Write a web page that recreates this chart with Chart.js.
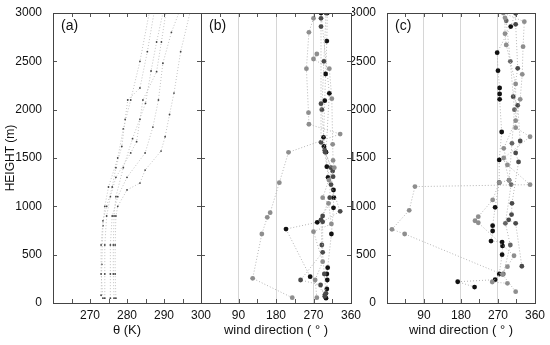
<!DOCTYPE html>
<html>
<head>
<meta charset="utf-8">
<script src="https://cdn.jsdelivr.net/npm/chart.js@4"></script>
<style>
  body { margin: 0; background: #fff; }
  #wrap { position: relative; width: 550px; height: 345px; }
  canvas { position: absolute; left: 0; top: 0; }
</style>
</head>
<body>
<div id="wrap">
  <canvas id="chartA" width="550" height="345"></canvas>
  <canvas id="chartB" width="550" height="345"></canvas>
  <canvas id="chartC" width="550" height="345"></canvas>
</div>
<script>
// TICKS
const heightTicks = [0, 500, 1000, 1500, 2000, 2500, 3000];
const thetaTickLabels = [270, 280, 290, 300];
const dirTickLabels = [90, 180, 270, 360];

// PANEL (a) - potential temperature profiles (K) vs height (m)
const a1Theta = [273.5, 273, 273, 273.5, 274.5, 276, 277, 278.6, 279.5, 280.2, 283.5, 285.5, 287.3];
const a1Hgt   = [50, 300, 600, 850, 1000, 1200, 1400, 1620, 1900, 2100, 2224, 2600, 3000];
const a2Theta = [274, 274, 274, 274.5, 275.5, 277, 281, 282.6, 283.5, 284.3, 288, 289.3, 290.5];
const a2Hgt   = [50, 300, 600, 900, 1100, 1300, 1552, 1669, 1900, 2100, 2393, 2700, 3000];
const a3Theta = [275.5, 275.5, 275.5, 276, 277.5, 280, 284.9, 287, 288.5, 289.7, 292, 294];
const a3Hgt   = [50, 300, 600, 900, 1100, 1300, 1552, 1820, 2100, 2480, 2800, 3000];
const a4Theta = [277, 276.8, 276.8, 277, 277.5, 280, 283.5, 284.9, 289.2, 290.3, 291.5, 292.7, 294.5, 297];
const a4Hgt   = [50, 300, 600, 900, 1000, 1170, 1241, 1375, 1572, 1720, 1950, 2172, 2600, 3000];
const a5Theta = [276.5, 276.3, 276.3, 276.5, 277, 279, 281.5, 285, 286.5, 288, 289.7];
const a5Hgt   = [50, 300, 600, 900, 1100, 1400, 1700, 2066, 2400, 2700, 3000];
const a6Theta = [273, 273.2, 273.5, 274, 275, 277.5, 279, 281, 283.5, 286];
const a6Hgt   = [80, 400, 800, 1000, 1200, 1500, 1800, 2100, 2500, 3000];

// PANEL (b) - wind direction (deg) vs height (m)
const bGray1Dir = [219, 124, 146, 159, 166, 188, 210, 334, 259, 258, 253, 259, 270];
const bGray1Hgt = [55, 255, 714, 886, 934, 1245, 1559, 1748, 1849, 1969, 2424, 2800, 2945];
const bGray2Dir = [278, 274, 292, 270, 313, 306, 292, 307, 320, 317, 316, 314, 308, 270, 278];
const bGray2Hgt = [55, 238, 428, 738, 818, 1030, 1090, 1272, 1400, 1475, 1641, 2114, 2424, 2524, 2576];
const bBlack1Dir = [300, 302, 303, 302, 304, 313, 318, 318, 302, 295, 294, 297, 299, 302, 303];
const bBlack1Hgt = [50, 145, 238, 300, 365, 714, 985, 1169, 1410, 1620, 1714, 2093, 2369, 2710, 3000];
const bBlack2Dir = [298, 262, 204, 279, 319, 305, 300, 308, 288];
const bBlack2Hgt = [90, 272, 765, 835, 1090, 1300, 1560, 2169, 3000];
const bDark1Dir = [297, 287, 239, 292, 292, 334, 312, 317, 316, 298, 288, 288, 288, 288];
const bDark1Hgt = [70, 186, 238, 524, 840, 948, 1225, 1307, 1365, 1560, 1662, 2062, 2860, 2945];
const bDark2Dir = [300, 296, 290, 288, 292, 309, 312, 297, 290, 295, 300];
const bDark2Hgt = [100, 300, 600, 860, 900, 1090, 1400, 1580, 2000, 2500, 3000];

// PANEL (c) - wind direction (deg) vs height (m)
const cGray1Dir = [313, 281, 43, 12, 54, 68, 348, 293, 284, 313, 324, 329, 331, 334, 283];
const cGray1Hgt = [117, 295, 714, 762, 959, 1204, 1224, 1428, 1600, 1886, 2107, 2366, 2652, 2910, 3000];
const cGray2Dir = [293, 256, 293, 309, 222, 214, 222, 257, 273, 297, 284, 348, 313, 313, 290, 287, 287];
const cGray2Hgt = [204, 217, 376, 489, 830, 851, 893, 1066, 1245, 1270, 1500, 1720, 1814, 2266, 2670, 2786, 2950];
const cBlack1Dir = [213, 172, 263, 273, 280, 281, 280, 253, 257, 257, 263, 273, 273, 279, 274, 274, 274, 270, 268, 301, 313];
const cBlack1Hgt = [165, 220, 241, 300, 500, 590, 630, 641, 745, 800, 990, 1245, 1480, 1769, 2107, 2162, 2224, 2403, 2590, 2860, 3000];
const cDark1Dir = [328, 313, 296, 303, 304, 320, 313, 324, 318, 307, 318, 313, 313];
const cDark1Hgt = [380, 824, 860, 915, 1031, 1459, 1552, 1676, 2045, 2134, 2428, 2883, 3000];
const cDark2Dir = [283, 300, 288, 302, 297, 304, 310, 300, 290];
const cDark2Hgt = [300, 600, 824, 1225, 1270, 1652, 2000, 2500, 2920];

const FONT = "'Liberation Sans', Arial, sans-serif";
const BLACK = "#111", DARK = "#4a4a4a", GRAY = "#8e8e8e";

function pts(xs, ys) {
    return xs.map((x, i) => ({ x: x, y: ys[i] }));
}

function profile(xs, ys, color, radius, lineColor) {
    return {
        data: pts(xs, ys),
        showLine: true,
        borderColor: lineColor || "#b4b4b4",
        borderWidth: 1,
        borderDash: [1, 2],
        pointRadius: radius,
        pointBackgroundColor: color,
        pointBorderWidth: 0
    };
}

// frame, inward ticks and panel letter
const framePlugin = {
    id: "frame",
    afterDraw(chart, args, opts) {
        const ctx = chart.ctx;
        const a = chart.chartArea;
        const xs = chart.scales.x, ys = chart.scales.y;
        ctx.save();
        ctx.strokeStyle = "#555";
        ctx.lineWidth = 1;
        ctx.beginPath();
        xs.ticks.forEach(t => {
            let px = Math.round(xs.getPixelForValue(t.value)) + 0.5;
            ctx.moveTo(px, a.bottom); ctx.lineTo(px, a.bottom - 4);
            ctx.moveTo(px, a.top); ctx.lineTo(px, a.top + 4);
        });
        heightTicks.forEach(v => {
            let py = Math.round(ys.getPixelForValue(v)) + 0.5;
            ctx.moveTo(a.left, py); ctx.lineTo(a.left + 4, py);
            ctx.moveTo(a.right, py); ctx.lineTo(a.right - 4, py);
        });
        ctx.stroke();
        ctx.strokeStyle = "#444";
        ctx.strokeRect(Math.round(a.left) + 0.5, Math.round(a.top) + 0.5,
            Math.round(a.right - a.left), Math.round(a.bottom - a.top));
        ctx.fillStyle = "#111";
        ctx.font = "14px " + FONT;
        ctx.textBaseline = "middle";
        ctx.fillText(opts.label, a.left + 8, a.top + 13);
        ctx.restore();
    }
};

function makePanel(id, datasets, o) {
    new Chart(document.getElementById(id), {
        type: "scatter",
        data: { datasets: datasets },
        plugins: [framePlugin],
        options: {
            responsive: false,
            animation: false,
            events: [],
            layout: { padding: { left: o.padLeft, right: o.padRight, top: 13, bottom: 0 } },
            plugins: {
                legend: { display: false },
                tooltip: { enabled: false },
                frame: { label: o.label }
            },
            scales: {
                x: {
                    type: "linear",
                    min: o.xMin, max: o.xMax,
                    afterFit: s => { s.height = 42; },
                    border: { display: false },
                    grid: {
                        drawTicks: false,
                        color: c => (o.grid && c.tick && c.tick.value % 90 === 0 &&
                            c.tick.value > 0 && c.tick.value < 360) ? "#d6d6d6" : "transparent"
                    },
                    ticks: {
                        stepSize: o.xStep,
                        autoSkip: false,
                        maxRotation: 0,
                        padding: 5,
                        color: "#111",
                        font: { family: FONT, size: 12 },
                        callback: v => o.xLabels.includes(v) ? String(v) : ""
                    },
                    title: {
                        display: true,
                        text: o.xTitle,
                        color: "#111",
                        font: { family: FONT, size: 13 },
                        padding: { top: 0, bottom: 7 }
                    }
                },
                y: {
                    type: "linear",
                    min: 0, max: 3000,
                    afterFit: s => { s.width = o.yWidth; },
                    border: { display: false },
                    grid: { display: false },
                    ticks: {
                        display: o.yLabels,
                        stepSize: 500,
                        padding: 3,
                        color: "#111",
                        font: { family: FONT, size: 12 },
                        callback: v => String(v)
                    },
                    title: {
                        display: !!o.yTitle,
                        text: o.yTitle,
                        color: "#111",
                        font: { family: FONT, size: 12 },
                        padding: { top: 3, bottom: 0 }
                    }
                }
            }
        }
    });
}

makePanel("chartA", [
    profile(a1Theta, a1Hgt, "#444", 0.9, "#c2c2c2"),
    profile(a2Theta, a2Hgt, "#444", 0.9, "#c2c2c2"),
    profile(a3Theta, a3Hgt, "#444", 0.9, "#c2c2c2"),
    profile(a4Theta, a4Hgt, "#444", 0.9, "#c2c2c2"),
    profile(a5Theta, a5Hgt, "#444", 0.9, "#c2c2c2"),
    profile(a6Theta, a6Hgt, "#444", 0.9, "#c2c2c2")
], {
    label: "(a)", padLeft: 0, padRight: 349, yWidth: 53, yLabels: true,
    yTitle: "HEIGHT (m)", xMin: 260, xMax: 300, xStep: 5,
    xLabels: thetaTickLabels, xTitle: "θ (K)", grid: false
});

makePanel("chartB", [
    profile(bGray1Dir, bGray1Hgt, GRAY, 2.4),
    profile(bGray2Dir, bGray2Hgt, GRAY, 2.4),
    profile(bDark1Dir, bDark1Hgt, DARK, 2.4),
    profile(bDark2Dir, bDark2Hgt, DARK, 2.4),
    profile(bBlack1Dir, bBlack1Hgt, BLACK, 2.4),
    profile(bBlack2Dir, bBlack2Hgt, BLACK, 2.4)
], {
    label: "(b)", padLeft: 201, padRight: 199, yWidth: 0, yLabels: false,
    yTitle: "", xMin: 0, xMax: 360, xStep: 45,
    xLabels: dirTickLabels, xTitle: "wind direction ( ° )", grid: true
});

makePanel("chartC", [
    profile(cGray1Dir, cGray1Hgt, GRAY, 2.4),
    profile(cGray2Dir, cGray2Hgt, GRAY, 2.4),
    profile(cDark2Dir, cDark2Hgt, "#666", 2.4),
    profile(cDark1Dir, cDark1Hgt, DARK, 2.4),
    profile(cBlack1Dir, cBlack1Hgt, BLACK, 2.4)
], {
    label: "(c)", padLeft: 352, padRight: 14, yWidth: 35, yLabels: true,
    yTitle: "", xMin: 0, xMax: 360, xStep: 45,
    xLabels: dirTickLabels, xTitle: "wind direction ( ° )", grid: true
});
</script>
</body>
</html>
